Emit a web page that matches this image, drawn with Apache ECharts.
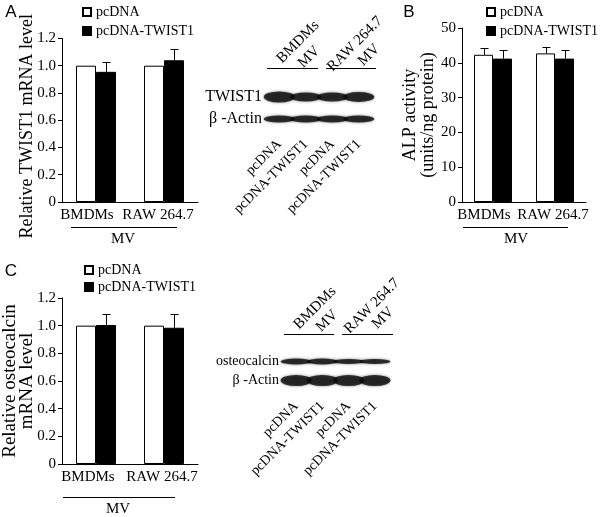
<!DOCTYPE html>
<html>
<head>
<meta charset="utf-8">
<script src="https://cdn.jsdelivr.net/npm/echarts@6/dist/echarts.min.js"></script>
<style>
  html, body { margin: 0; padding: 0; background: #fff; }
  #chart { width: 600px; height: 517px; }
</style>
</head>
<body>
<div id="chart"></div>
<script>
// categories
const groups = ["BMDMs", "RAW 264.7"];
const names = ["pcDNA", "pcDNA-TWIST1"];
const lanes = ["pcDNA", "pcDNA-TWIST1", "pcDNA", "pcDNA-TWIST1"];
const rowsA = ["TWIST1", "β -Actin"];
const rowsC = ["osteocalcin", "β -Actin"];

// A: relative TWIST1 mRNA
const twistCtrl = [1.0, 1.0];
const twistOver = [0.955, 1.04];
const twistOverErr = [0.075, 0.08];

// B: ALP activity
const alpCtrl = [42.3, 42.7];
const alpCtrlErr = [2.0, 1.8];
const alpOver = [41.2, 41.2];
const alpOverErr = [2.6, 2.6];

// C: relative osteocalcin mRNA
const ocnCtrl = [1.0, 1.0];
const ocnOver = [1.005, 0.985];
const ocnOverErr = [0.08, 0.1];

// blot band thickness per lane
const twistBand = [11, 9, 9, 10];
const actinBandA = [7, 7, 7, 7];
const ocnBand = [6, 6, 5, 5];
const actinBandC = [11, 11, 11, 11];

const SERIF = '"Liberation Serif", "Times New Roman", serif';
const SANS = '"Liberation Sans", Arial, sans-serif';

const chart = echarts.init(document.getElementById("chart"));

function valueAxis(grid, max, interval, name, gap, fs, lh, pad, fmt) {
  return {
    type: "value", gridIndex: grid, min: 0, max, interval,
    name, nameLocation: "middle", nameGap: gap, nameMoveOverlap: false,
    nameTextStyle: { fontFamily: SERIF, fontSize: fs, color: "#000", lineHeight: lh, padding: pad },
    axisLine: { show: true, lineStyle: { color: "#000", width: 1 } },
    axisTick: { show: true, length: 4, lineStyle: { color: "#000" } },
    axisLabel: { fontFamily: SERIF, fontSize: 15, color: "#000", margin: 6, formatter: fmt },
    splitLine: { show: false }
  };
}

// group labels sit a little left of the category centre in the reference
function catAxis(grid, padFirst, padSecond) {
  const base = { fontFamily: SERIF, fontSize: 15, color: "#000" };
  return {
    type: "category", gridIndex: grid, data: groups, z: 3,
    axisLine: { lineStyle: { color: "#000", width: 1 } },
    axisTick: { length: 4, lineStyle: { color: "#000" } },
    axisLabel: {
      margin: 6, interval: 0,
      formatter: (v, i) => (i === 0 ? "{a|" + v + "}" : "{b|" + v + "}"),
      rich: {
        a: Object.assign({ padding: [0, padFirst, 0, 0] }, base),
        b: Object.assign({ padding: [0, padSecond, 0, 0] }, base)
      }
    }
  };
}

function laneAxis(grid, margin) {
  return {
    type: "category", gridIndex: grid, data: lanes,
    axisLine: { show: false }, axisTick: { show: false },
    axisLabel: { fontFamily: SERIF, fontSize: 14, color: "#000", rotate: 45, margin, interval: 0 }
  };
}

function rowAxis(grid, rows, fs) {
  return {
    type: "category", gridIndex: grid, data: rows, inverse: true,
    axisLine: { show: false }, axisTick: { show: false },
    axisLabel: { fontFamily: SERIF, fontSize: fs, color: "#000", margin: 4 }
  };
}

function bars(idx, ctrl, over, w) {
  return [
    { type: "bar", name: names[0], xAxisIndex: idx, yAxisIndex: idx, data: ctrl, barWidth: w, barGap: "0%",
      itemStyle: { color: "#fff", borderColor: "#000", borderWidth: 1 } },
    { type: "bar", name: names[1], xAxisIndex: idx, yAxisIndex: idx, data: over, barWidth: w, barGap: "0%",
      itemStyle: { color: "#000", borderColor: "#000", borderWidth: 1 } }
  ];
}

function errors(idx, vals, errs, side, w) {
  return {
    type: "custom", name: "err", xAxisIndex: idx, yAxisIndex: idx, z: 5,
    data: vals.map((v, i) => [i, v, errs[i]]),
    renderItem(params, api) {
      const base = api.coord([api.value(0), api.value(1)]);
      const top = api.coord([api.value(0), api.value(1) + api.value(2)]);
      const x = Math.round(base[0] + side * w / 2) + 0.5;
      const ty = Math.round(top[1]) + 0.5;
      return {
        type: "group",
        children: [
          { type: "line", shape: { x1: x, y1: base[1], x2: x, y2: ty }, style: { stroke: "#000", lineWidth: 1 } },
          { type: "line", shape: { x1: x - 4, y1: ty, x2: x + 4, y2: ty }, style: { stroke: "#000", lineWidth: 1 } }
        ]
      };
    }
  };
}

function bands(idx, row, thick) {
  return {
    type: "scatter", name: "band", xAxisIndex: idx, yAxisIndex: idx,
    data: thick.map((t, i) => [i, row, t]),
    symbol: "circle",
    symbolSize: (v) => [31, v[2]],
    itemStyle: { color: "#0a0a0a", shadowBlur: 3, shadowColor: "rgba(0,0,0,0.6)" },
    silent: true
  };
}

function legend(left, top, gap) {
  return {
    data: names, left, top, orient: "vertical", itemGap: gap, padding: 0,
    icon: "rect", itemWidth: 8, itemHeight: 8,
    textStyle: { fontFamily: SERIF, fontSize: 14, color: "#000" },
    selectedMode: false
  };
}

function txt(text, x, y, fs, rot, font) {
  return {
    type: "text", x, y, rotation: rot || 0, silent: true,
    style: {
      text, fill: "#000", font: fs + "px " + (font || SERIF),
      align: "center", verticalAlign: "middle", textAlign: "center", textVerticalAlign: "middle"
    }
  };
}

function hline(x1, x2, y) {
  return { type: "line", silent: true, shape: { x1, y1: y + 0.5, x2, y2: y + 0.5 }, style: { stroke: "#000", lineWidth: 1 } };
}

const R = Math.PI / 4;
const fmt1 = (v) => (v === 0 ? "0" : v.toFixed(1));

chart.setOption({
  animation: false,
  backgroundColor: "#fff",
  grid: [
    { left: 62, top: 32, width: 136, height: 170 },
    { left: 462, top: 28, width: 124, height: 174 },
    { left: 62, top: 298, width: 136, height: 166 },
    { left: 266, top: 86, width: 106, height: 44 },
    { left: 283, top: 352, width: 105, height: 38 }
  ],
  xAxis: [catAxis(0, 18, 12), catAxis(1, 18, 4), catAxis(2, 16, 4), laneAxis(3, 12), laneAxis(4, 14)],
  yAxis: [
    valueAxis(0, 1.2, 0.2, "Relative TWIST1 mRNA level", 26, 18, 18, [0, 12, 0, 0], fmt1),
    valueAxis(1, 50, 10, "ALP activity\n(units/ng protein)", 25, 18, 18, 0),
    valueAxis(2, 1.2, 0.2, "Relative osteocalcin\nmRNA level", 26, 19, 17, 0, fmt1),
    rowAxis(3, rowsA, 16),
    rowAxis(4, rowsC, 14)
  ],
  legend: [legend(82, 5, 5), legend(486, 5, 5), legend(84, 263, 3)],
  series: [
    ...bars(0, twistCtrl, twistOver, 20),
    errors(0, twistOver, twistOverErr, 1, 20),
    ...bars(1, alpCtrl, alpOver, 19),
    errors(1, alpCtrl, alpCtrlErr, -1, 19),
    errors(1, alpOver, alpOverErr, 1, 19),
    ...bars(2, ocnCtrl, ocnOver, 20),
    errors(2, ocnOver, ocnOverErr, 1, 20),
    bands(3, 0, twistBand),
    bands(3, 1, actinBandA),
    bands(4, 0, ocnBand),
    bands(4, 1, actinBandC)
  ],
  graphic: [
    txt("A", 11, 12, 17, 0, SANS),
    txt("B", 409, 12, 17, 0, SANS),
    txt("C", 11, 271, 17, 0, SANS),
    hline(71, 177, 227), txt("MV", 123, 239, 15),
    hline(463, 568, 227), txt("MV", 516, 239, 15),
    hline(63, 175, 497), txt("MV", 118, 509, 15),
    hline(267, 318, 68), hline(326, 376, 68),
    txt("BMDMs", 298, 42, 15, R), txt("MV", 309, 57, 15, R),
    txt("RAW 264.7", 355, 44, 15, R), txt("MV", 369, 55, 15, R),
    hline(284, 334, 334), hline(342, 393, 334),
    txt("BMDMs", 315, 308, 15, R), txt("MV", 327, 321, 15, R),
    txt("RAW 264.7", 372, 306, 15, R), txt("MV", 383, 318, 15, R)
  ]
});
</script>
</body>
</html>
